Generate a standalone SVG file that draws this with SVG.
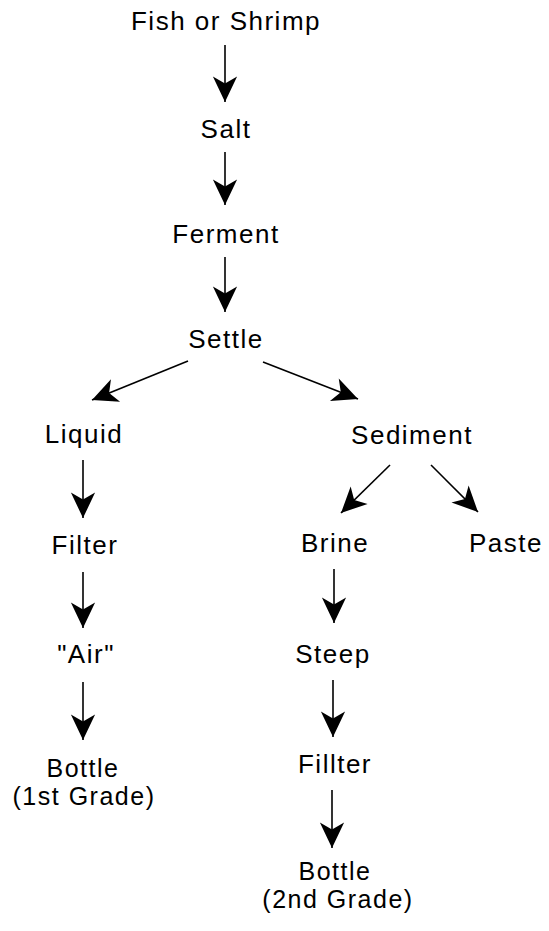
<svg xmlns="http://www.w3.org/2000/svg" width="549" height="931" viewBox="0 0 549 931">
<style>
  text { font-family: "Liberation Sans", Arial, sans-serif; font-size: 26px; letter-spacing: 1.5px; fill: #000; text-anchor: middle; }
  text.two { font-size: 25px; }
  .edge { stroke: #000; stroke-width: 1.6; fill: none; marker-end: url(#head); }
</style>
<defs>
  <marker id="head" markerUnits="userSpaceOnUse" markerWidth="30" markerHeight="30" viewBox="-24 -12 26 24" refX="0" refY="0" orient="auto">
    <path d="M0,0 L-22,-10.5 L-16,0 L-22,10.5 Z" fill="#000"/>
  </marker>
</defs>
<rect width="549" height="931" fill="#fff"/>
<g id="connectors">
  <line class="edge" x1="225" y1="45" x2="225" y2="102"/>
  <line class="edge" x1="225" y1="152" x2="225" y2="205"/>
  <line class="edge" x1="225" y1="257" x2="225" y2="312"/>
  <line class="edge" x1="188" y1="361" x2="92" y2="400"/>
  <line class="edge" x1="263" y1="362" x2="358" y2="399"/>
  <line class="edge" x1="83" y1="460" x2="83" y2="518"/>
  <line class="edge" x1="83" y1="572" x2="83" y2="628"/>
  <line class="edge" x1="83" y1="682" x2="83" y2="740"/>
  <line class="edge" x1="390" y1="465" x2="341" y2="513"/>
  <line class="edge" x1="431" y1="465" x2="478" y2="512"/>
  <line class="edge" x1="334" y1="569" x2="334" y2="623"/>
  <line class="edge" x1="333" y1="680" x2="333" y2="737"/>
  <line class="edge" x1="332" y1="790" x2="332" y2="848"/>
</g>
<g id="fish"><text x="226" y="30">Fish or Shrimp</text></g>
<g id="salt"><text x="226" y="138">Salt</text></g>
<g id="ferment"><text x="226" y="243">Ferment</text></g>
<g id="settle"><text x="226" y="348">Settle</text></g>
<g id="liquid"><text x="84" y="443">Liquid</text></g>
<g id="sediment"><text x="412" y="444">Sediment</text></g>
<g id="filter1"><text x="85" y="554">Filter</text></g>
<g id="brine"><text x="335" y="552">Brine</text></g>
<g id="paste"><text x="506" y="552">Paste</text></g>
<g id="air"><text x="86" y="663">"Air"</text></g>
<g id="steep"><text x="333" y="663">Steep</text></g>
<g id="bottle1"><text class="two" x="83" y="777">Bottle</text><text class="two" x="84" y="805">(1st Grade)</text></g>
<g id="filter2"><text x="335" y="773">Fillter</text></g>
<g id="bottle2"><text class="two" x="335" y="880">Bottle</text><text class="two" x="338" y="908">(2nd Grade)</text></g>
</svg>
